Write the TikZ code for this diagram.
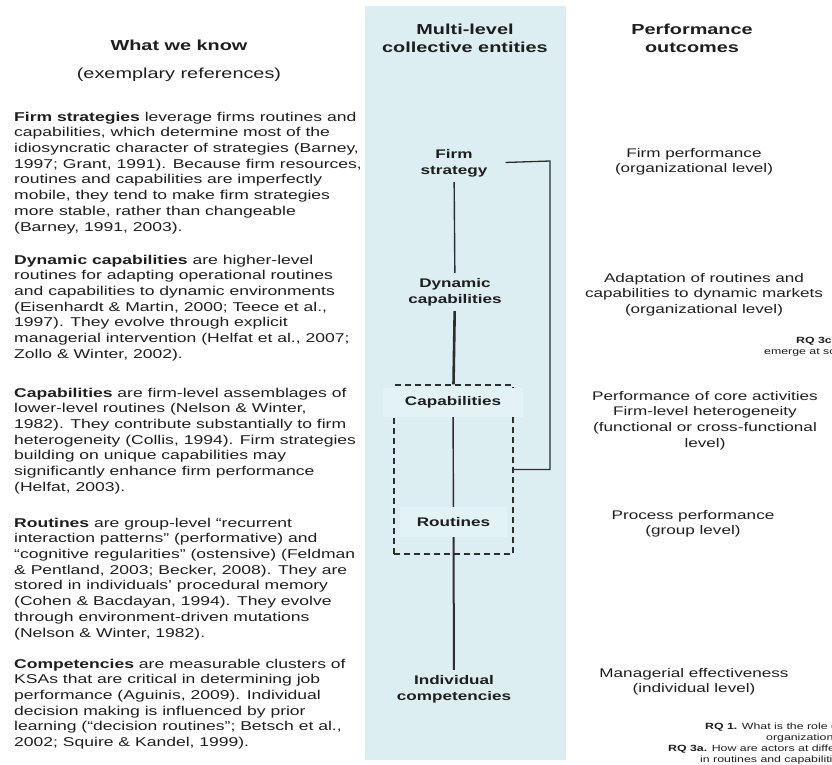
\documentclass[tikz,border=0pt]{standalone}
\usepackage{fontspec}
\setmainfont{Liberation Sans}[FakeStretch=1.37]

\definecolor{panelblue}{RGB}{220,238,242}
\definecolor{bandblue}{RGB}{227,242,245}
\definecolor{ink}{RGB}{30,30,30}
\definecolor{rule}{RGB}{45,45,45}

\tikzset{
  head/.style={font=\fontsize{14.5}{17.5}\selectfont\bfseries, align=center, inner sep=0pt, anchor=north, text=ink},
  subhead/.style={font=\fontsize{14.5}{17.5}\selectfont, align=center, inner sep=0pt, anchor=north, text=ink},
  body/.style={font=\fontsize{12.8}{15.7}\selectfont, align=left, inner sep=0pt, anchor=north west, text=ink},
  outcome/.style={font=\fontsize{12.5}{15.7}\selectfont, align=center, inner sep=0pt, anchor=north, text=ink},
  entity/.style={font=\fontsize{12.5}{16}\selectfont\bfseries, align=center, inner xsep=2pt, inner ysep=5pt, text=ink},
  band/.style={entity, fill=bandblue},
  link/.style={draw=rule, line width=1.4pt},
  thicklink/.style={draw=rule, line width=2.6pt},
  rq/.style={font=\fontsize{9}{11}\selectfont, inner sep=0pt, anchor=base west, text=ink}
}

\begin{document}
\begin{tikzpicture}[x=1pt,y=-1pt]
\useasboundingbox (0,0) rectangle (832,764);
\clip (0,0) rectangle (832,764);
\fill[white] (0,0) rectangle (832,764);

% middle column background
\fill[panelblue] (365,6) rectangle (566,760);

% column headings
\node[head]    (hknow) at (179,40) {What we know};
\node[subhead] (href)  at (179,68) {(exemplary references)};
\node[head]    (hmid)  at (465,24) {Multi-level\\collective entities};
\node[head]    (hout)  at (692,24) {Performance\\outcomes};

% left column: what we know
\node[body] (kfs) at (14,111.7) {\textbf{Firm strategies} leverage firms routines and\\
capabilities, which determine most of the\\
idiosyncratic character of strategies (Barney,\\
1997; Grant, 1991). Because firm resources,\\
routines and capabilities are imperfectly\\
mobile, they tend to make firm strategies\\
more stable, rather than changeable\\
(Barney, 1991, 2003).};

\node[body] (kdc) at (14,254.7) {\textbf{Dynamic capabilities} are higher-level\\
routines for adapting operational routines\\
and capabilities to dynamic environments\\
(Eisenhardt \& Martin, 2000; Teece et al.,\\
1997). They evolve through explicit\\
managerial intervention (Helfat et al., 2007;\\
Zollo \& Winter, 2002).};

\node[body] (kcap) at (14,387.7) {\textbf{Capabilities} are firm-level assemblages of\\
lower-level routines (Nelson \& Winter,\\
1982). They contribute substantially to firm\\
heterogeneity (Collis, 1994). Firm strategies\\
building on unique capabilities may\\
significantly enhance firm performance\\
(Helfat, 2003).};

\node[body] (krt) at (14,517.7) {\textbf{Routines} are group-level “recurrent\\
interaction patterns” (performative) and\\
“cognitive regularities” (ostensive) (Feldman\\
\& Pentland, 2003; Becker, 2008). They are\\
stored in individuals’ procedural memory\\
(Cohen \& Bacdayan, 1994). They evolve\\
through environment-driven mutations\\
(Nelson \& Winter, 1982).};

\node[body] (kic) at (14,658.7) {\textbf{Competencies} are measurable clusters of\\
KSAs that are critical in determining job\\
performance (Aguinis, 2009). Individual\\
decision making is influenced by prior\\
learning (“decision routines”; Betsch et al.,\\
2002; Squire \& Kandel, 1999).};

% middle column: entities
\node[entity] (fs) at (454,163) {Firm\\strategy};
\node[entity] (dc) at (455,292) {Dynamic\\capabilities};
\node[draw=rule, line width=1.3pt, dash pattern=on 6pt off 4pt,
      minimum width=119pt, minimum height=169pt, inner sep=0pt] (cluster) at (453.5,469.5) {};
\node[band, minimum width=140pt, minimum height=29pt, inner sep=0pt] (cap) at (453,402.5) {Capabilities};
\node[band, minimum width=107pt, minimum height=30pt, inner sep=0pt] (rt) at (453.5,522) {Routines};
\node[entity] (ic) at (454,689) {Individual\\competencies};

\draw[link] (fs) -- (dc);
\draw[thicklink] (dc) -- (cluster.north);
\draw[link] (cap) -- (rt);
\draw[link, line width=2pt] (rt) -- (ic);

% bracket from firm strategy to the capability/routine cluster
\coordinate (brk) at (550,161);
\draw[draw=rule, line width=1.3pt, shorten <=16pt] (fs.east) -- (brk) |- (cluster.east);

% right column: performance outcomes
\node[outcome] (ofp) at (694,148) {Firm performance\\(organizational level)};
\node[outcome] (oad) at (704,273) {Adaptation of routines and\\capabilities to dynamic markets\\(organizational level)};
\node[outcome] (ocap) at (705,391) {Performance of core activities\\Firm-level heterogeneity\\(functional or cross-functional\\level)};
\node[outcome] (opp) at (693,510) {Process performance\\(group level)};
\node[outcome] (ome) at (694,668) {Managerial effectiveness\\(individual level)};

% research questions
\node[rq] (rq3c) at (796,343) {\textbf{RQ 3c}};
\node[rq] (rq3cb) at (764,354) {emerge at sc};
\node[rq] (rq1) at (705,729) {\textbf{RQ 1.} What is the role o};
\node[rq] (rq1b) at (766,740) {organization};
\node[rq] (rq3a) at (668,751) {\textbf{RQ 3a.} How are actors at differen};
\node[rq] (rq3ab) at (700,762) {in routines and capabilities};
\end{tikzpicture}
\end{document}
